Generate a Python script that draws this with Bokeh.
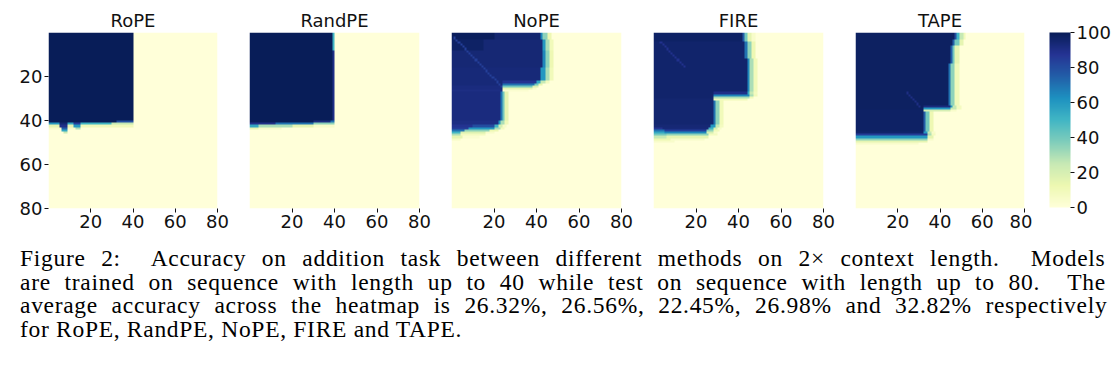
import numpy as np
from bokeh.plotting import figure
from bokeh.layouts import row, column
from bokeh.models import (LinearColorMapper, ColorBar, FixedTicker, Range1d, Div)
from bokeh.embed import file_html
from bokeh.resources import INLINE

# ---------------- data ----------------
methods = ["RoPE", "RandPE", "NoPE", "FIRE", "TAPE"]
tick_vals = [20, 40, 60, 80]
cbar_ticks = [0, 20, 40, 60, 80, 100]

# run-length rows: (number of rows, [(accuracy, number of columns), ...])
rope_rows = [
    (40, [(100, 40), (0, 40)]),
    (1, [(100, 32), (80, 8), (0, 40)]),
    (1, [(60, 5), (95, 4), (55, 3), (85, 3), (50, 15), (25, 10), (0, 40)]),
    (1, [(15, 5), (90, 4), (15, 3), (60, 3), (10, 25), (0, 40)]),
    (1, [(5, 6), (75, 3), (5, 4), (30, 2), (0, 65)]),
    (1, [(0, 6), (55, 3), (0, 71)]),
    (1, [(0, 7), (25, 2), (0, 71)]),
    (34, [(0, 80)]),
]
randpe_rows = [
    (8, [(100, 39), (50, 1), (0, 40)]),
    (32, [(100, 39), (90, 1), (0, 40)]),
    (1, [(100, 30), (92, 8), (70, 2), (0, 40)]),
    (1, [(90, 12), (70, 18), (35, 10), (0, 40)]),
    (1, [(55, 4), (30, 16), (15, 10), (5, 10), (0, 40)]),
    (1, [(15, 4), (5, 11), (0, 65)]),
    (36, [(0, 80)]),
]
nope_rows = [
    (3, [(99, 20), (95, 22), (65, 1), (35, 2), (12, 2), (0, 33)]),
    (5, [(97, 15), (94, 28), (60, 1), (30, 2), (10, 2), (0, 32)]),
    (8, [(94, 43), (65, 1), (35, 2), (12, 2), (0, 32)]),
    (6, [(93, 42), (60, 2), (30, 2), (10, 2), (0, 32)]),
    (1, [(93, 24), (88, 16), (55, 2), (25, 2), (8, 2), (0, 34)]),
    (1, [(93, 24), (70, 15), (40, 2), (15, 2), (0, 37)]),
    (1, [(92, 24), (40, 14), (18, 3), (0, 39)]),
    (1, [(92, 24), (15, 14), (5, 2), (0, 40)]),
    (1, [(91, 24), (3, 12), (0, 44)]),
    (13, [(92, 23), (70, 1), (40, 1), (15, 2), (0, 53)]),
    (2, [(91, 22), (60, 1), (30, 2), (10, 2), (0, 53)]),
    (1, [(88, 10), (80, 10), (50, 2), (20, 2), (5, 2), (0, 54)]),
    (1, [(85, 8), (60, 12), (30, 3), (8, 2), (0, 55)]),
    (1, [(70, 6), (35, 12), (12, 4), (0, 58)]),
    (1, [(50, 4), (18, 12), (5, 4), (0, 60)]),
    (1, [(30, 4), (8, 12), (0, 64)]),
    (1, [(15, 5), (3, 8), (0, 67)]),
    (1, [(6, 4), (0, 76)]),
    (31, [(0, 80)]),
]
fire_rows = [
    (4, [(97, 42), (75, 1), (40, 1), (15, 2), (5, 2), (0, 32)]),
    (8, [(96, 43), (70, 1), (35, 2), (12, 2), (0, 32)]),
    (15, [(96, 44), (65, 1), (30, 2), (10, 2), (0, 31)]),
    (1, [(96, 28), (90, 16), (55, 1), (25, 2), (8, 2), (0, 31)]),
    (1, [(96, 28), (65, 17), (30, 2), (10, 2), (0, 31)]),
    (1, [(96, 28), (30, 17), (10, 2), (0, 33)]),
    (1, [(95, 28), (10, 16), (0, 36)]),
    (11, [(95, 28), (70, 1), (35, 2), (10, 2), (0, 47)]),
    (1, [(94, 27), (60, 2), (25, 2), (8, 2), (0, 47)]),
    (1, [(88, 4), (93, 22), (50, 2), (20, 2), (5, 2), (0, 48)]),
    (1, [(70, 5), (85, 20), (35, 3), (10, 3), (0, 49)]),
    (1, [(55, 5), (65, 20), (20, 3), (5, 2), (0, 50)]),
    (1, [(40, 6), (35, 20), (8, 4), (0, 50)]),
    (1, [(25, 6), (15, 20), (0, 54)]),
    (1, [(12, 8), (5, 16), (0, 56)]),
    (1, [(5, 10), (0, 70)]),
    (30, [(0, 80)]),
]
tape_rows = [
    (3, [(98, 47), (80, 1), (50, 1), (25, 2), (10, 1), (0, 28)]),
    (3, [(98, 46), (75, 1), (40, 2), (15, 2), (0, 29)]),
    (8, [(98, 45), (75, 1), (40, 1), (15, 2), (0, 31)]),
    (19, [(98, 44), (70, 1), (35, 2), (10, 2), (0, 31)]),
    (1, [(98, 32), (92, 13), (60, 1), (25, 2), (8, 2), (0, 30)]),
    (1, [(98, 32), (60, 13), (25, 3), (8, 2), (0, 30)]),
    (1, [(97, 32), (20, 13), (5, 3), (0, 32)]),
    (9, [(97, 32), (75, 1), (40, 2), (12, 2), (0, 43)]),
    (1, [(96, 32), (60, 2), (25, 2), (5, 2), (0, 42)]),
    (1, [(85, 34), (30, 2), (8, 2), (0, 42)]),
    (1, [(60, 34), (15, 3), (0, 43)]),
    (1, [(35, 34), (5, 3), (0, 43)]),
    (1, [(15, 34), (0, 46)]),
    (1, [(5, 30), (0, 50)]),
    (29, [(0, 80)]),
]
# faint lighter diagonal streaks: (row, column, accuracy)
rope_streak = []
randpe_streak = []
nope_streak = [(3, 2, 84), (4, 3, 84), (5, 4, 84), (6, 5, 84), (7, 6, 84), (8, 7, 84),
               (9, 8, 84), (10, 9, 84), (11, 10, 84), (12, 11, 84), (13, 12, 84),
               (14, 13, 84), (15, 14, 84), (16, 15, 84), (17, 16, 84), (18, 17, 84),
               (19, 18, 84), (20, 19, 84), (21, 20, 84), (22, 21, 84), (23, 22, 84),
               (24, 23, 84), (25, 24, 84)]
fire_streak = [(5, 4, 89), (6, 5, 89), (7, 6, 89), (8, 7, 89), (9, 8, 89), (10, 9, 89),
               (11, 10, 89), (12, 11, 89), (13, 12, 89), (14, 13, 89), (15, 14, 89),
               (16, 15, 89)]
tape_streak = [(28, 25, 91), (29, 26, 91), (30, 27, 91), (31, 28, 91), (32, 29, 91),
               (33, 30, 91), (34, 31, 91)]

caption_lines = [
    "Figure 2:&nbsp; Accuracy on addition task between different methods on 2\u00d7 context length.&nbsp; Models",
    "are trained on sequence with length up to 40 while test on sequence with length up to 80.&nbsp; The",
    "average accuracy across the heatmap is 26.32%, 26.56%, 22.45%, 26.98% and 32.82% respectively",
    "for RoPE, RandPE, NoPE, FIRE and TAPE.",
]
caption_word_gap = ["9.0px", "7.2px", "7.1px", "0px"]   # extra space so lines 1-3 fill the width

# ---------------- helpers ----------------
def decode(groups, streak):
    rows = []
    for n, segs in groups:
        r = []
        for v, c in segs:
            r += [v] * c
        assert len(r) == 80, (len(r), segs)
        rows += [list(r) for _ in range(n)]
    assert len(rows) == 80
    g = np.array(rows, dtype=float)
    for rr, cc, v in streak:
        g[rr - 1, cc - 1] = v
    return g

def hex2rgb(h):
    h = h.lstrip("#")
    return np.array([int(h[i:i + 2], 16) for i in (0, 2, 4)], dtype=float)

base = ['#ffffd9', '#edf8b1', '#c7e9b4', '#7fcdbb', '#41b6c4', '#1d91c0', '#225ea8', '#253494', '#081d58']
pos = np.linspace(0, 1, len(base))
rgb = np.array([hex2rgb(c) for c in base])
palette = []
for ti in np.linspace(0, 1, 256):
    col = [np.interp(ti, pos, rgb[:, k]) for k in range(3)]
    palette.append("#%02x%02x%02x" % tuple(int(round(c)) for c in col))

mapper = LinearColorMapper(palette=palette, low=0, high=100)

grids = [decode(rope_rows, rope_streak), decode(randpe_rows, randpe_streak),
         decode(nope_rows, nope_streak), decode(fire_rows, fire_streak),
         decode(tape_rows, tape_streak)]

TOP, FRAME_H, H = 32, 176, 236
frame_w = [169, 170, 170, 170, 169]
left_b = [48, 16, 16, 16, 16]
right_b = [16, 16, 16, 16, 8]
FONT = "DejaVu Sans"
FS = "18px"
TXT = "#111111"

figs = []
for i, (name, g) in enumerate(zip(methods, grids)):
    p = figure(width=left_b[i] + frame_w[i] + right_b[i], height=H,
               x_range=Range1d(0, 80), y_range=Range1d(0, 80),
               output_backend="svg", toolbar_location=None, title=name,
               min_border_left=left_b[i], min_border_right=right_b[i],
               min_border_top=TOP, min_border_bottom=H - TOP - FRAME_H)
    p.image(image=[g[::-1]], x=0, y=0, dw=80, dh=80, color_mapper=mapper)
    p.outline_line_color = None
    p.grid.visible = False
    p.title.text_font = FONT
    p.title.text_font_size = FS
    p.title.text_font_style = "normal"
    p.title.text_color = TXT
    p.title.align = "center"
    p.title.standoff = 4
    for ax in (p.xaxis[0], p.yaxis[0]):
        ax.axis_line_color = None
        ax.major_tick_in = 0
        ax.major_tick_out = 4
        ax.major_tick_line_color = TXT
        ax.minor_tick_line_color = None
        ax.major_label_text_font = FONT
        ax.major_label_text_font_size = FS
        ax.major_label_text_color = TXT
        ax.major_label_standoff = 2
    p.xaxis.ticker = FixedTicker(ticks=tick_vals)
    p.yaxis.ticker = FixedTicker(ticks=[80 - v for v in tick_vals])
    p.yaxis.major_label_overrides = {80 - v: str(v) for v in tick_vals}
    if i > 0:
        p.yaxis.visible = False
    figs.append(p)

# colour bar in its own narrow panel
used = sum(left_b) + sum(frame_w) + sum(right_b)
cbf = figure(width=1118 - used, height=H, output_backend="svg", toolbar_location=None,
             min_border_left=0, min_border_right=0, min_border_top=TOP,
             min_border_bottom=H - TOP - FRAME_H, x_range=Range1d(0, 1), y_range=Range1d(0, 1))
cbf.axis.visible = False
cbf.grid.visible = False
cbf.outline_line_color = None
cb = ColorBar(color_mapper=mapper, ticker=FixedTicker(ticks=cbar_ticks),
              width=21, height=175, padding=0, margin=0, location=(17, 1),
              major_tick_in=0, major_tick_out=4, major_tick_line_color=TXT,
              minor_tick_line_color=None, bar_line_color=None,
              border_line_color=None, background_fill_alpha=0,
              major_label_text_font=FONT, major_label_text_font_size=FS,
              major_label_text_color=TXT, label_standoff=2)
cbf.add_layout(cb, "center")

html_lines = []
for ln, gap in zip(caption_lines, caption_word_gap):
    html_lines.append(
        '<div style="display:block;white-space:nowrap;height:23.7px;overflow:visible;'
        'text-align:left;word-spacing:%s;">%s</div>' % (gap, ln))
caption = Div(text="".join(html_lines), width=1090, height=110,
              margin=(11, 0, 0, 20),
              styles={"font-family": "'Liberation Serif', serif", "font-size": "23.5px",
                      "letter-spacing": "0.7px",
                      "line-height": "23.7px", "color": "#000000"})

layout = column(row(*figs, cbf, spacing=0), caption, spacing=0)
open("out.html", "w").write(file_html(layout, INLINE))
